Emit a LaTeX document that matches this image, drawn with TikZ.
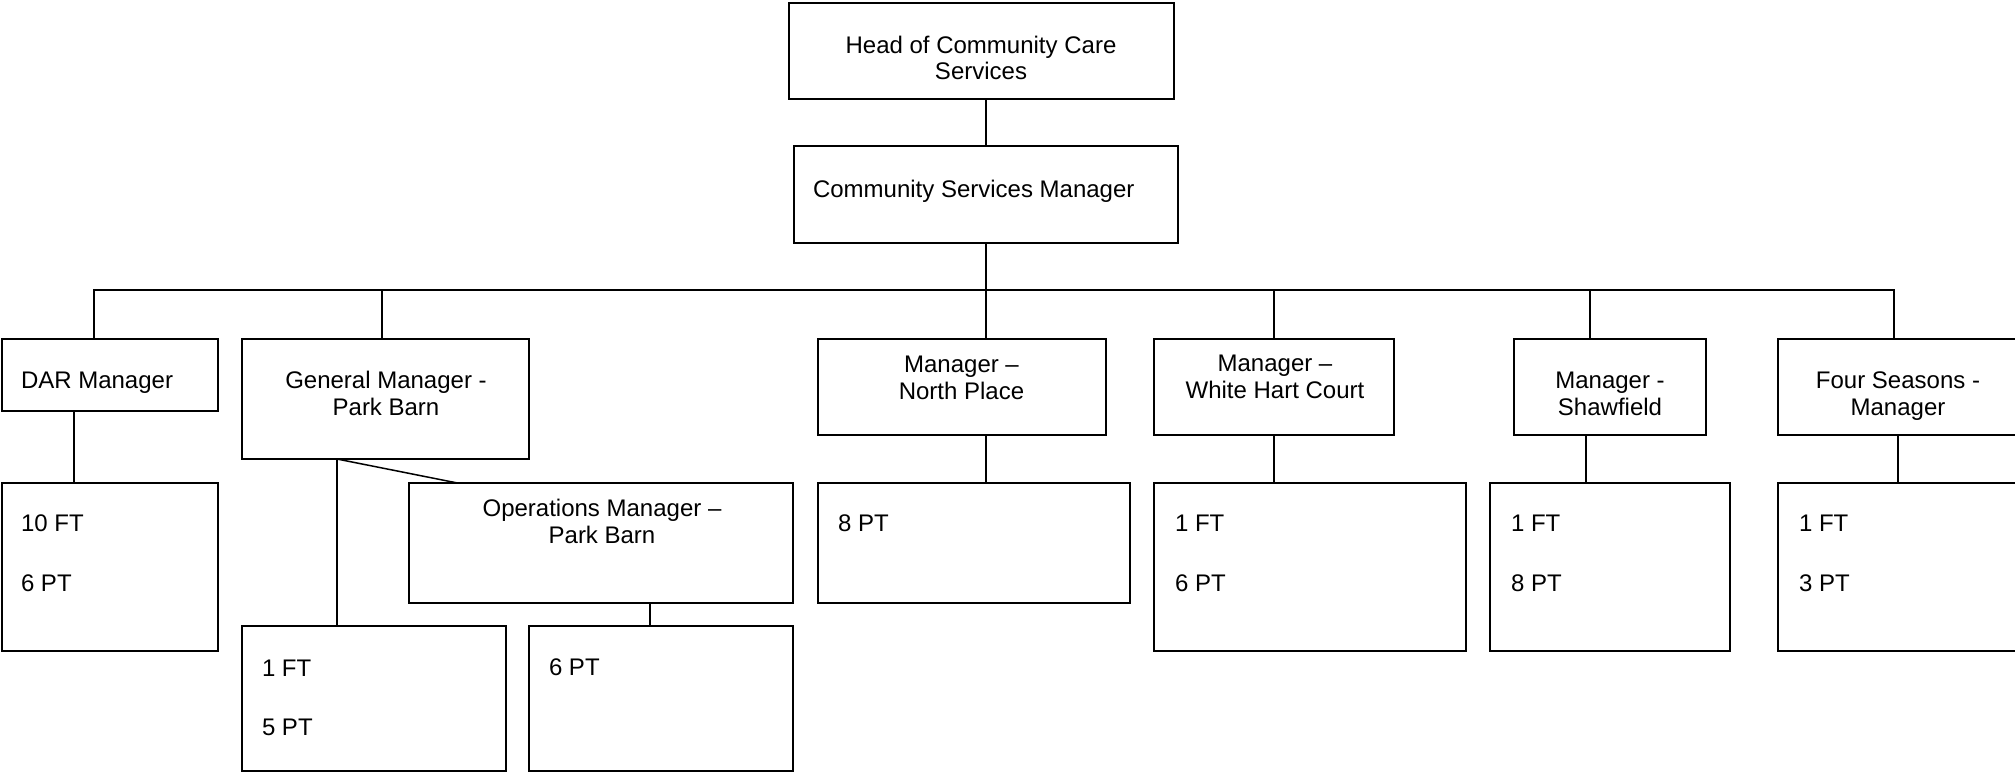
\documentclass[tikz,border=0pt]{standalone}
\usepackage{fontspec}
\setmainfont{Liberation Sans}
\begin{document}
\begin{tikzpicture}[x=1pt,y=-1pt,
  box/.style={draw, line width=1.5pt, inner sep=0pt, outer sep=0pt},
  conn/.style={line width=1.5pt},
  txt/.style={inner sep=0pt, outer sep=0pt, font=\fontsize{24}{27}\selectfont},
  ctxt/.style={txt, anchor=base},
  ltxt/.style={txt, anchor=base west}]
\useasboundingbox (0,0) rectangle (2015,772);
% boxes
\node[box, minimum width=385pt, minimum height=96pt] (head) at (981.5,51) {};
\node[box, minimum width=384pt, minimum height=97pt] (csm) at (986,194.5) {};
\node[box, minimum width=216pt, minimum height=72pt] (dar) at (110,375) {};
\node[box, minimum width=287pt, minimum height=120pt] (gm) at (385.5,399) {};
\node[box, minimum width=288pt, minimum height=96pt] (np) at (962,387) {};
\node[box, minimum width=240pt, minimum height=96pt] (whc) at (1274,387) {};
\node[box, minimum width=192pt, minimum height=96pt] (shaw) at (1610,387) {};
\node[box, minimum width=254pt, minimum height=96pt] (fs) at (1905,387) {};
\node[box, minimum width=216pt, minimum height=168pt] (darstaff) at (110,567) {};
\node[box, minimum width=384pt, minimum height=120pt] (ops) at (601,543) {};
\node[box, minimum width=264pt, minimum height=145pt] (gmstaff) at (374,698.5) {};
\node[box, minimum width=264pt, minimum height=145pt] (sixpt) at (661,698.5) {};
\node[box, minimum width=312pt, minimum height=120pt] (npstaff) at (974,543) {};
\node[box, minimum width=312pt, minimum height=168pt] (whcstaff) at (1310,567) {};
\node[box, minimum width=240pt, minimum height=168pt] (shawstaff) at (1610,567) {};
\node[box, minimum width=254pt, minimum height=168pt] (fsstaff) at (1905,567) {};
% texts
\node[ctxt] (headA) at (981,53.6) {Head of Community Care};
\node[ctxt] (headB) at (981,79.6) {Services};
\node[ltxt] (csmA) at (813,197) {Community Services Manager};
\node[ltxt] (darA) at (21,388) {DAR Manager};
\node[ctxt] (gmA) at (386,388.6) {General Manager -};
\node[ctxt] (gmB) at (386,415.6) {Park Barn};
\node[ctxt] (npA) at (961.5,372.6) {Manager –};
\node[ctxt] (npB) at (961.5,399.6) {North Place};
\node[ctxt] (whcA) at (1275,371.6) {Manager –};
\node[ctxt] (whcB) at (1275,398.6) {White Hart Court};
\node[ctxt] (shawA) at (1610,388.6) {Manager -};
\node[ctxt] (shawB) at (1610,415.6) {Shawfield};
\node[ctxt] (fsA) at (1898,388.6) {Four Seasons -};
\node[ctxt] (fsB) at (1898,415.6) {Manager};
\node[ctxt] (opsA) at (602,516.6) {Operations Manager –};
\node[ctxt] (opsB) at (602,543.6) {Park Barn};
\node[ltxt] (darsA) at (21,531.6) {10 FT};
\node[ltxt] (darsB) at (21,591.6) {6 PT};
\node[ltxt] (gmsA) at (262,676.6) {1 FT};
\node[ltxt] (gmsB) at (262,735.6) {5 PT};
\node[ltxt] (sixA) at (549,675.6) {6 PT};
\node[ltxt] (npsA) at (838,531.6) {8 PT};
\node[ltxt] (whcsA) at (1175,531.6) {1 FT};
\node[ltxt] (whcsB) at (1175,591.6) {6 PT};
\node[ltxt] (shawsA) at (1511,531.6) {1 FT};
\node[ltxt] (shawsB) at (1511,591.6) {8 PT};
\node[ltxt] (fssA) at (1799,531.6) {1 FT};
\node[ltxt] (fssB) at (1799,591.6) {3 PT};
% connectors
\draw[conn] (csm.north) -- (csm.north |- head.south);
\coordinate (bus) at (986,290);
\draw[conn] (csm.south) -- (bus);
\draw[conn] ([xshift=-16pt]dar.north) |- (bus);
\draw[conn] ([xshift=-3.5pt]gm.north) |- (bus);
\draw[conn] ([xshift=24pt]np.north) |- (bus);
\draw[conn] (whc.north) |- (bus);
\draw[conn] ([xshift=-20pt]shaw.north) |- (bus);
\draw[conn] ([xshift=-11pt]fs.north) |- (bus);
\draw[conn] ([xshift=-36pt]dar.south) coordinate (d1) -- (d1 |- darstaff.north);
\draw[conn] ([xshift=-48.5pt]gm.south) coordinate (g1) -- (g1 |- gmstaff.north);
\draw[conn] (g1) -- ([xshift=48.5pt]ops.north west);
\draw[conn] ([xshift=49pt]ops.south) coordinate (o1) -- (o1 |- sixpt.north);
\draw[conn] ([xshift=24pt]np.south) coordinate (n1) -- (n1 |- npstaff.north);
\draw[conn] (whc.south) -- (whc.south |- whcstaff.north);
\draw[conn] ([xshift=-24pt]shaw.south) coordinate (s1) -- (s1 |- shawstaff.north);
\draw[conn] ([xshift=-7pt]fs.south) coordinate (f1) -- (f1 |- fsstaff.north);
\end{tikzpicture}
\end{document}
